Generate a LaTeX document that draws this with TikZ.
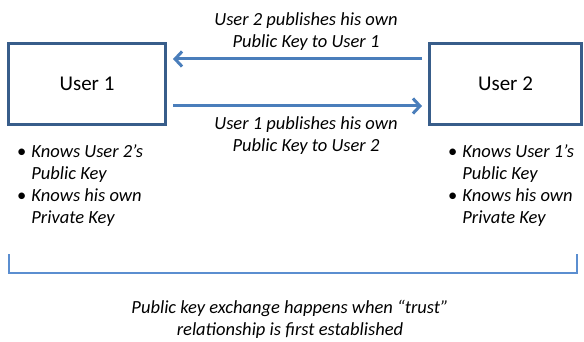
\documentclass[tikz,border=0pt]{standalone}
\usepackage{fontspec}
\setmainfont{Carlito}
\usetikzlibrary{arrows.meta,calc}
\definecolor{boxblue}{HTML}{385D8A}
\definecolor{arrblue}{HTML}{4A7EBB}
\definecolor{brblue}{HTML}{5B8ED0}
\tikzset{
  userbox/.style={draw=boxblue, line width=3pt, fill=white, font=\fontsize{21}{25}\selectfont, inner sep=0pt},
  arr/.style={draw=arrblue, line width=3pt, -{Straight Barb[length=7pt,width=15pt,line width=3pt]}},
  lbl/.style={font=\fontsize{18.5}{22}\selectfont\itshape, align=center, inner sep=0pt},
  bul/.style={font=\fontsize{18.5}{22}\selectfont, inner sep=0pt, anchor=north west},
  bracketline/.style={draw=brblue, line width=1.2pt}
}
\newcommand{\bulletlist}[1]{\begin{tabular}{@{}l@{\hspace{5pt}}l@{}}\textbullet & \itshape Knows User #1’s\\ & \itshape Public Key\\ \textbullet & \itshape Knows his own\\ & \itshape Private Key\end{tabular}}
\begin{document}
\begin{tikzpicture}[x=1pt,y=-1pt]
\useasboundingbox (0,0) rectangle (584,342);
\node[userbox, minimum width=157pt, minimum height=81pt] (u1) at (87,84) {User 1};
\node[userbox, minimum width=152pt, minimum height=81pt] (u2) at (505.5,84) {User 2};
\coordinate (t1) at ($(u2.west)+(-6,-25)$);
\coordinate (t2) at ($(u1.east)+(6,-25)$);
\coordinate (b1) at ($(u1.east)+(6,22)$);
\coordinate (b2) at ($(u2.west)+(-6,22)$);
\draw[arr] (t1) -- (t2);
\draw[arr] (b1) -- (b2);
\node[lbl] (ltop) at (306,32) {User 2 publishes his own\\Public Key to User 1};
\node[lbl] (lbot) at (306,136) {User 1 publishes his own\\Public Key to User 2};
\node[bul] (k1) at (17,142) {\bulletlist{2}};
\node[bul] (k2) at (448,142) {\bulletlist{1}};
\coordinate (br1) at (9,254);
\coordinate (br2) at (9,273);
\coordinate (br3) at (577,273);
\coordinate (br4) at (577,254);
\draw[bracketline] (br1) -- (br2) -- (br3) -- (br4);
\node[lbl] (note) at (290,319) {Public key exchange happens when “trust”\\relationship is first established};
\end{tikzpicture}
\end{document}
